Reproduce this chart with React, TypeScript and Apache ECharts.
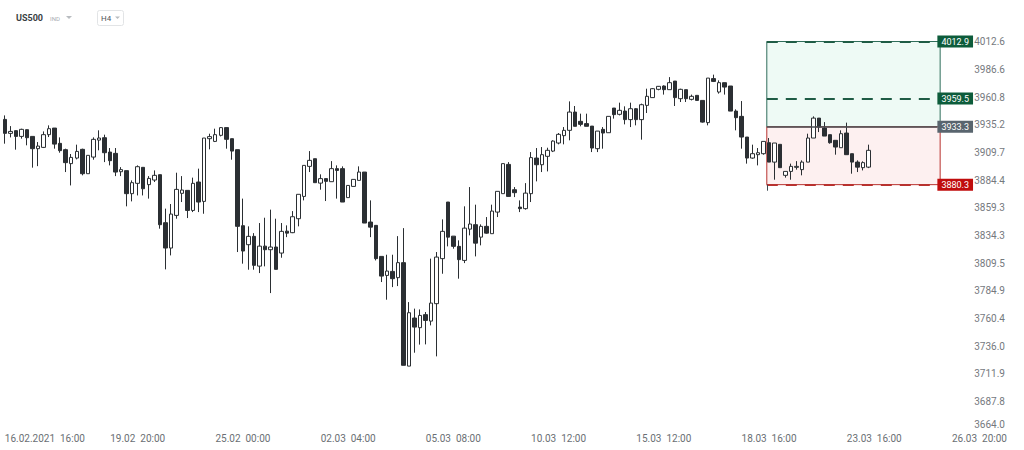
import React, { useEffect, useRef } from "react";
import * as echarts from "echarts";

// ---- data (US500, H4 candles) ----
const candleOpen = [
  3940.2, 3927.3, 3929.8, 3924.5, 3930.7, 3924.5, 3913.2, 3914.4, 3926.1, 3932.2,
  3918.1, 3912.3, 3899.5, 3904.6, 3912.6, 3890.3, 3905.5, 3921.1, 3923.3, 3910.1,
  3908.9, 3892.1, 3893.1, 3872.1, 3881.5, 3896.1, 3880.3, 3884.5, 3889.4, 3845.8,
  3823.0, 3852.4, 3872.4, 3875.1, 3856.9, 3882.7, 3865.1, 3922.4, 3919.9, 3925.5,
  3932.6, 3922.4, 3912.3, 3843.1, 3826.0, 3833.5, 3806.8, 3824.7, 3821.5, 3823.9,
  3818.5, 3838.2, 3836.8, 3849.4, 3869.6, 3897.0, 3904.0, 3881.7, 3885.8, 3883.0,
  3894.9, 3894.9, 3868.5, 3878.7, 3884.2, 3891.8, 3846.4, 3843.4, 3815.5, 3798.5,
  3802.1, 3796.5, 3809.9, 3718.5, 3760.7, 3752.2, 3763.7, 3758.0, 3773.4, 3813.5,
  3864.5, 3833.7, 3824.5, 3811.9, 3840.0, 3844.0, 3832.8, 3842.5, 3835.9, 3855.4,
  3872.1, 3898.8, 3875.7, 3859.9, 3858.5, 3872.1, 3904.6, 3898.5, 3906.2, 3911.0,
  3918.4, 3925.2, 3930.1, 3947.0, 3938.4, 3936.3, 3934.0, 3913.2, 3931.0, 3927.9,
  3950.7, 3944.9, 3947.9, 3940.0, 3950.1, 3940.0, 3953.2, 3960.4, 3968.1, 3971.2,
  3967.8, 3975.8, 3959.4, 3967.8, 3958.8, 3962.5, 3957.8, 3937.2, 3978.1, 3965.6,
  3974.3, 3971.2, 3947.9, 3943.0, 3923.9, 3904.6, 3907.7, 3908.6, 3918.7, 3900.9,
  3917.2, 3888.8, 3892.4, 3896.1, 3894.0, 3900.9, 3923.0, 3941.4, 3932.2, 3926.1,
  3920.9, 3914.1, 3927.6, 3908.6, 3900.9, 3895.8, 3896.3,
];
const candleClose = [
  3927.3, 3929.1, 3924.5, 3931.0, 3923.3, 3913.2, 3915.6, 3926.1, 3931.6, 3917.4,
  3911.4, 3900.4, 3905.2, 3910.7, 3890.3, 3907.1, 3921.8, 3923.0, 3909.5, 3902.2,
  3891.8, 3894.0, 3872.1, 3882.1, 3896.7, 3876.6, 3886.0, 3888.8, 3844.0, 3823.0,
  3853.6, 3876.0, 3875.4, 3856.9, 3881.5, 3864.5, 3923.0, 3924.3, 3926.1, 3932.6,
  3921.8, 3911.0, 3842.5, 3820.3, 3833.5, 3807.5, 3824.7, 3821.5, 3823.9, 3803.9,
  3838.0, 3836.4, 3851.2, 3871.5, 3897.9, 3902.5, 3882.1, 3885.8, 3883.3, 3894.9,
  3893.3, 3864.5, 3879.6, 3885.1, 3891.8, 3845.5, 3841.8, 3813.5, 3797.9, 3802.4,
  3795.6, 3809.9, 3719.2, 3765.4, 3752.7, 3763.0, 3758.6, 3773.9, 3814.9, 3838.0,
  3832.8, 3824.5, 3812.6, 3840.9, 3844.6, 3827.4, 3842.5, 3836.4, 3856.3, 3874.2,
  3899.5, 3869.6, 3873.0, 3858.5, 3872.6, 3905.0, 3898.5, 3907.7, 3911.7, 3920.2,
  3926.4, 3930.1, 3947.0, 3933.8, 3935.6, 3933.8, 3913.8, 3929.4, 3927.6, 3943.0,
  3944.6, 3948.6, 3940.0, 3950.1, 3940.0, 3953.8, 3961.6, 3968.7, 3970.9, 3967.8,
  3974.3, 3960.4, 3968.1, 3959.4, 3961.6, 3957.8, 3937.7, 3978.6, 3975.5, 3974.3,
  3970.2, 3947.9, 3941.8, 3923.9, 3904.6, 3908.6, 3909.5, 3919.9, 3900.9, 3918.4,
  3895.8, 3892.4, 3897.0, 3897.0, 3900.9, 3923.0, 3941.4, 3933.1, 3924.8, 3918.7,
  3914.7, 3927.0, 3907.7, 3900.9, 3896.3, 3900.4, 3911.7,
];
const candleLow = [
  3917.8, 3923.6, 3912.3, 3922.4, 3916.3, 3895.8, 3897.2, 3913.8, 3923.9, 3913.2,
  3909.5, 3891.8, 3879.6, 3903.4, 3888.8, 3890.3, 3903.1, 3911.7, 3900.9, 3897.9,
  3888.1, 3888.1, 3860.6, 3865.1, 3870.5, 3870.5, 3867.6, 3882.7, 3840.4, 3803.9,
  3816.4, 3849.4, 3864.5, 3850.0, 3855.4, 3855.4, 3853.9, 3912.6, 3919.3, 3924.5,
  3913.2, 3903.1, 3819.4, 3809.0, 3803.6, 3803.6, 3800.6, 3806.6, 3782.8, 3803.9,
  3814.3, 3832.8, 3836.4, 3842.5, 3866.0, 3891.8, 3882.1, 3875.7, 3865.4, 3883.0,
  3867.6, 3864.5, 3868.5, 3878.7, 3884.2, 3845.5, 3832.8, 3811.9, 3792.6, 3776.9,
  3788.1, 3789.0, 3719.2, 3718.5, 3730.2, 3737.3, 3737.5, 3754.2, 3727.0, 3800.0,
  3824.5, 3822.4, 3795.6, 3809.5, 3834.4, 3815.5, 3825.4, 3835.9, 3835.9, 3850.9,
  3872.1, 3869.6, 3869.0, 3855.4, 3857.6, 3864.5, 3883.3, 3891.8, 3892.4, 3910.1,
  3917.2, 3917.2, 3920.9, 3933.8, 3933.8, 3933.8, 3910.1, 3910.1, 3913.2, 3927.9,
  3940.9, 3943.9, 3935.6, 3933.1, 3934.7, 3921.5, 3946.1, 3960.4, 3967.2, 3963.2,
  3967.8, 3952.6, 3956.3, 3956.3, 3957.8, 3957.8, 3937.2, 3934.7, 3974.9, 3964.1,
  3963.2, 3947.9, 3930.1, 3913.2, 3899.5, 3904.0, 3897.9, 3907.7, 3900.9, 3884.8,
  3895.8, 3886.7, 3884.8, 3894.0, 3888.8, 3900.9, 3923.0, 3928.5, 3924.8, 3917.8,
  3907.7, 3914.1, 3907.7, 3890.3, 3891.8, 3893.3, 3895.4,
];
const candleHigh = [
  3943.9, 3934.0, 3929.8, 3931.6, 3931.0, 3924.5, 3919.3, 3929.1, 3934.7, 3932.2,
  3923.6, 3913.2, 3908.3, 3916.9, 3913.2, 3907.1, 3923.6, 3930.1, 3926.1, 3913.8,
  3913.8, 3896.3, 3893.1, 3884.2, 3897.9, 3896.1, 3888.1, 3893.3, 3889.4, 3858.5,
  3862.7, 3891.2, 3888.1, 3875.1, 3886.7, 3894.9, 3923.0, 3927.0, 3931.6, 3933.1,
  3932.6, 3922.4, 3912.3, 3867.6, 3842.5, 3836.4, 3845.5, 3850.3, 3857.6, 3849.4,
  3845.5, 3843.4, 3856.3, 3871.5, 3897.9, 3911.0, 3904.0, 3889.7, 3885.8, 3901.8,
  3897.9, 3897.0, 3879.6, 3885.1, 3897.0, 3891.8, 3866.0, 3843.4, 3815.5, 3817.0,
  3817.0, 3833.7, 3840.9, 3774.8, 3769.0, 3768.3, 3766.0, 3813.5, 3819.4, 3848.8,
  3864.5, 3833.7, 3829.9, 3860.6, 3878.1, 3862.1, 3844.3, 3850.9, 3862.1, 3874.2,
  3899.5, 3900.9, 3878.1, 3866.0, 3881.7, 3910.1, 3913.8, 3914.7, 3914.1, 3920.9,
  3927.6, 3933.1, 3956.9, 3952.6, 3945.5, 3945.5, 3934.0, 3929.4, 3933.1, 3943.0,
  3950.7, 3955.7, 3952.3, 3955.7, 3950.7, 3954.8, 3968.7, 3969.3, 3971.2, 3971.8,
  3979.5, 3975.8, 3968.7, 3967.8, 3963.2, 3962.5, 3957.8, 3978.6, 3981.8, 3976.5,
  3974.3, 3971.2, 3949.5, 3957.2, 3923.9, 3916.9, 3913.8, 3919.9, 3923.0, 3918.4,
  3917.2, 3892.4, 3899.5, 3901.8, 3902.5, 3927.0, 3943.0, 3941.4, 3937.7, 3926.1,
  3920.9, 3930.1, 3937.2, 3908.6, 3902.5, 3901.6, 3916.9,
];

// price axis tick labels (log-spaced scale)
const yTickLabels = [
  "3664.0", "3687.8", "3711.9", "3736.0", "3760.4", "3784.9", "3809.5", "3834.3",
  "3859.3", "3884.4", "3909.7", "3935.2", "3960.8", "3986.6", "4012.6",
];
// time axis tick labels
const xTickLabels = [
  "16.02.2021  16:00", "19.02  20:00", "25.02  00:00", "02.03  04:00", "05.03  08:00",
  "10.03  12:00", "15.03  12:00", "18.03  16:00", "23.03  16:00", "26.03  20:00",
];
const xTickBars = [0, 24, 43, 62, 81, 100, 119, 138, 157, 176];
const barSlots = 184;

// position tool (long)
const positionStartBar = 138.1;
const positionEndBar = 169.4;
const takeProfit = 4012.9;
const takeProfit2 = 3959.5;
const entryPrice = 3933.3;
const stopLoss = 3880.3;

const LOG_BASE = 3664.0;
const LOG_STEP = Math.log(4012.6 / 3664.0) / 14;
const toT = (p: number) => Math.log(p / LOG_BASE) / LOG_STEP;

const DARK = "#2b2f33";

export default function App() {
  const ref = useRef<HTMLDivElement>(null);
  useEffect(() => {
    if (!ref.current) return;
    const chart = echarts.init(ref.current, undefined, { renderer: "svg" });
    const categories = Array.from({ length: barSlots }, (_, i) => String(i));
    const candles = candleOpen.map((o, i) => [
      toT(o), toT(candleClose[i]), toT(candleLow[i]), toT(candleHigh[i]),
    ]);
    const tickMap: Record<number, string> = {};
    xTickBars.forEach((b, k) => (tickMap[b] = xTickLabels[k]));

    const lbl = (text: string, bg: string) => ({
      show: true,
      position: "end",
      distance: 0,
      formatter: text,
      color: "#ffffff",
      backgroundColor: bg,
      fontSize: 9,
      fontFamily: "Roboto",
      padding: [2, 4, 1, 4],
    });

    chart.setOption({
      animation: false,
      backgroundColor: "#ffffff",
      textStyle: { fontFamily: "Roboto" },
      grid: { left: 2, right: 3, top: 28, bottom: 21, containLabel: false },
      xAxis: [
        {
          type: "category",
          data: categories,
          boundaryGap: true,
          axisLine: { show: false },
          axisTick: { show: false },
          splitLine: { show: false },
          axisLabel: {
            interval: (index: number) => tickMap[index] !== undefined,
            formatter: (_v: string, index: number) => tickMap[index] ?? "",
            color: "#6a6f74",
            fontSize: 10,
            margin: 4,
            alignMinLabel: "left",
          },
        },
        { type: "value", min: 0, max: barSlots, show: false },
      ],
      yAxis: {
        type: "value",
        position: "right",
        min: 0,
        max: 14.5,
        interval: 1,
        axisLine: { show: false },
        axisTick: { show: false },
        splitLine: { show: false },
        axisLabel: {
          inside: true,
          margin: 16,
          color: "#75797e",
          fontSize: 10,
          verticalAlignMinLabel: "bottom",
          formatter: (v: number) => yTickLabels[Math.round(v)] ?? "",
        },
      },
      series: [
        {
          type: "line",
          xAxisIndex: 1,
          yAxisIndex: 0,
          data: [],
          silent: true,
          markArea: {
            silent: true,
            data: [
              [
                {
                  coord: [positionStartBar, toT(takeProfit)],
                  itemStyle: { color: "#eefaf5", borderColor: "#2f6d5a", borderWidth: 1 },
                },
                { coord: [positionEndBar, toT(entryPrice)] },
              ],
              [
                {
                  coord: [positionStartBar, toT(entryPrice)],
                  itemStyle: { color: "#fdf0f0", borderColor: "#b8322f", borderWidth: 1 },
                },
                { coord: [positionEndBar, toT(stopLoss)] },
              ],
            ],
          },
          markLine: {
            silent: true,
            symbol: ["none", "none"],
            data: [
              [
                {
                  coord: [positionStartBar, toT(takeProfit)],
                  lineStyle: { color: "#1f5c45", width: 2, type: [11, 8] },
                  label: lbl(String(takeProfit.toFixed(1)), "#0d5c3b"),
                },
                { coord: [positionEndBar - 0.5, toT(takeProfit)] },
              ],
              [
                {
                  coord: [positionStartBar, toT(takeProfit2)],
                  lineStyle: { color: "#1f5c45", width: 2, type: [11, 8] },
                  label: lbl(String(takeProfit2.toFixed(1)), "#0d5c3b"),
                },
                { coord: [positionEndBar - 0.5, toT(takeProfit2)] },
              ],
              [
                {
                  coord: [positionStartBar, toT(entryPrice)],
                  lineStyle: { color: "#4a4f55", width: 1.5, type: "solid" },
                  label: lbl(String(entryPrice.toFixed(1)), "#59656e"),
                },
                { coord: [positionEndBar - 0.5, toT(entryPrice)] },
              ],
              [
                {
                  coord: [positionStartBar, toT(stopLoss)],
                  lineStyle: { color: "#b8322f", width: 2, type: [11, 8] },
                  label: lbl(String(stopLoss.toFixed(1)), "#c00d0d"),
                },
                { coord: [positionEndBar - 0.5, toT(stopLoss)] },
              ],
              [
                {
                  coord: [positionStartBar, toT(stopLoss)],
                  lineStyle: { color: "#3d4a52", width: 1, type: "solid" },
                  label: { show: false },
                },
                { coord: [positionStartBar, toT(stopLoss - 5.5)] },
              ],
            ],
          },
        },
        {
          type: "candlestick",
          xAxisIndex: 0,
          yAxisIndex: 0,
          barWidth: 4,
          data: candles,
          itemStyle: {
            color: "#ffffff",
            color0: DARK,
            borderColor: DARK,
            borderColor0: DARK,
            borderWidth: 1,
          },
        },
      ],
      graphic: [
        {
          type: "text",
          left: 16,
          top: 13,
          style: { text: "US500", fill: "#3a3f44", font: "bold 9px Roboto" },
        },
        {
          type: "text",
          left: 50,
          top: 15,
          style: { text: "IND", fill: "#a8adb2", font: "6px Roboto" },
        },
        {
          type: "polygon",
          shape: { points: [[66, 16], [72, 16], [69, 19]] },
          style: { fill: "#b8bcc0" },
        },
        {
          type: "rect",
          shape: { x: 97.5, y: 10.5, width: 26, height: 15, r: 2 },
          style: { fill: "#ffffff", stroke: "#e2e4e6", lineWidth: 1 },
        },
        {
          type: "text",
          left: 101,
          top: 14,
          style: { text: "H4", fill: "#50555a", font: "8px Roboto" },
        },
        {
          type: "polygon",
          shape: { points: [[115, 16.5], [120, 16.5], [117.5, 19]] },
          style: { fill: "#b8bcc0" },
        },
      ],
    });
    return () => chart.dispose();
  }, []);
  return (
    <div
      ref={ref}
      style={{ position: "fixed", left: 0, top: 0, width: 1024, height: 450 }}
    />
  );
}
